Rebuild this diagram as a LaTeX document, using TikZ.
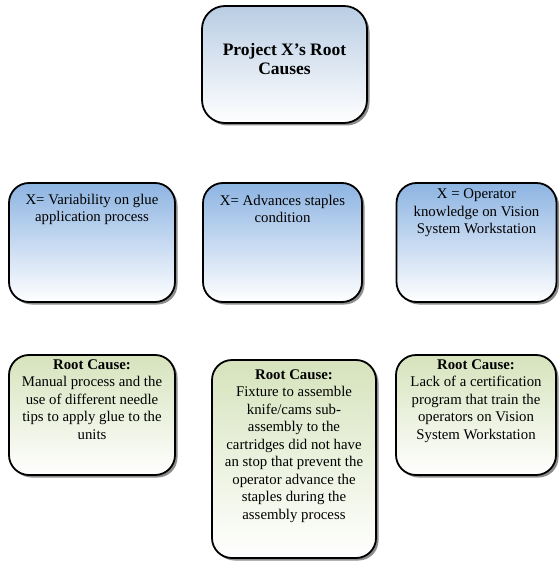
\documentclass[tikz,border=0pt]{standalone}
\usepackage{fontspec}
\setmainfont{Liberation Serif}
\usetikzlibrary{shadows}

\definecolor{headblue}{RGB}{185,205,228}
\definecolor{xblue}{RGB}{141,180,226}
\definecolor{causegreen}{RGB}{214,227,188}

\tikzset{
  box/.style={draw=black, line width=1.8pt, rounded corners=20pt, inner sep=0pt,
    drop shadow={shadow xshift=2.5pt, shadow yshift=-2.5pt, fill=black, opacity=0.45},
    bottom color=white},
  headbox/.style={box, top color=headblue, rounded corners=23pt},
  xbox/.style={box, top color=xblue},
  causebox/.style={box, top color=causegreen},
  txt/.style={inner sep=0pt, align=center, font=\fontsize{14.8}{17.5}\selectfont},
  headtxt/.style={inner sep=0pt, align=center, font=\fontsize{17.5}{19.5}\selectfont\bfseries}
}

\begin{document}
\begin{tikzpicture}[x=1pt, y=1pt]
\useasboundingbox (0,0) rectangle (559,-561);
\node [headbox, minimum width=165pt, minimum height=117pt] (head) at (284.5,-64.5) {};
\node [headtxt] (headlbl) at (284.5,-59) {Project X’s Root\\Causes};
\node [xbox, minimum width=166pt, minimum height=119pt] (xglue) at (92,-242.5) {};
\node [txt, anchor=north] (xgluelbl) at (92,-194) {X= Variability on glue\\application process};
\node [xbox, minimum width=159pt, minimum height=119pt] (xstaple) at (282.5,-242.5) {};
\node [txt, anchor=north] (xstaplelbl) at (282.5,-195) {X= Advances staples\\condition};
\node [xbox, minimum width=160pt, minimum height=119pt] (xvision) at (476.5,-242.5) {};
\node [txt, anchor=north] (xvisionlbl) at (476.5,-189) {X = Operator\\knowledge on Vision\\System Workstation};
\node [causebox, minimum width=166pt, minimum height=120pt] (cglue) at (92,-415) {};
\node [txt, anchor=north] (cgluelbl) at (92,-359) {\textbf{Root Cause:}\\Manual process and the\\use of different needle\\tips to apply glue to the\\units};
\node [causebox, minimum width=164pt, minimum height=198pt] (cstaple) at (294,-459) {};
\node [txt, anchor=north] (cstaplelbl) at (294,-369) {\textbf{Root Cause:}\\Fixture to assemble\\knife/cams sub-\\assembly to the\\cartridges did not have\\an stop that prevent the\\operator advance the\\staples during the\\assembly process};
\node [causebox, minimum width=160pt, minimum height=120pt] (cvision) at (476,-415) {};
\node [txt, anchor=north] (cvisionlbl) at (476,-359) {\textbf{Root Cause:}\\Lack of a certification\\program that train the\\operators on Vision\\System Workstation};
\end{tikzpicture}
\end{document}
